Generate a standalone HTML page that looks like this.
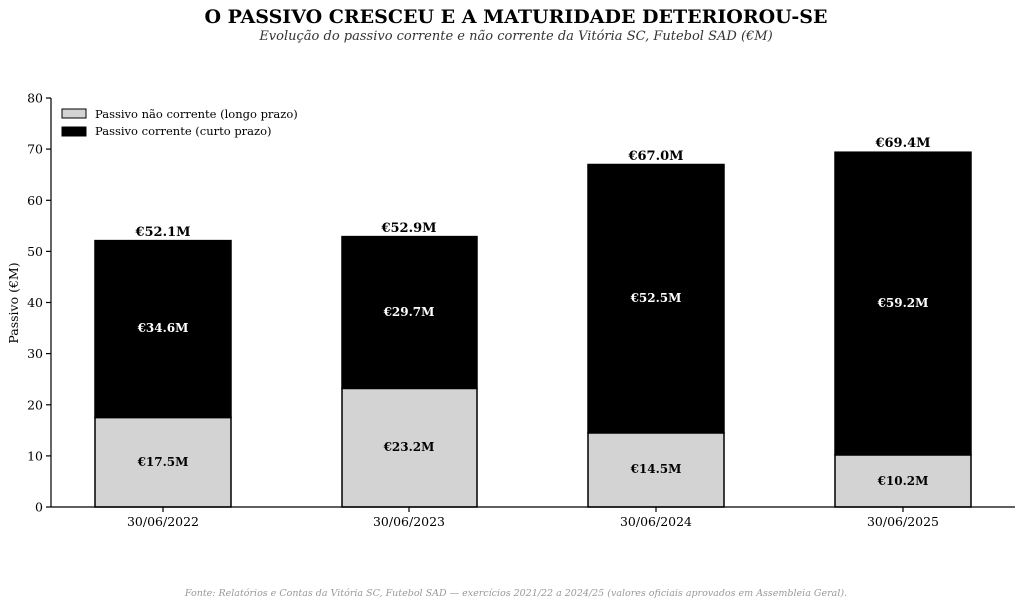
<!DOCTYPE html>
<html><head><meta charset="utf-8"><style>
body{margin:0;background:#fff;}
svg{display:block;font-family:"DejaVu Serif","Liberation Serif",serif;}
</style></head><body>
<svg width="1023" height="607" viewBox="0 0 1023 607" xmlns="http://www.w3.org/2000/svg">
<rect width="1023" height="607" fill="#fff"/>
<text x="516" y="23" text-anchor="middle" font-size="19" font-weight="bold">O PASSIVO CRESCEU E A MATURIDADE DETERIOROU-SE</text>
<text x="516" y="40" text-anchor="middle" font-size="13" font-style="italic" fill="#333">Evolução do passivo corrente e não corrente da Vitória SC, Futebol SAD (€M)</text>

<g stroke="#000" stroke-width="1.5">
<rect x="95" y="417.5" width="136" height="89.5" fill="#d3d3d3"/>
<rect x="95" y="240.6" width="136" height="176.9" fill="#000"/>
<rect x="342" y="388.4" width="135" height="118.6" fill="#d3d3d3"/>
<rect x="342" y="236.6" width="135" height="151.8" fill="#000"/>
<rect x="588" y="432.9" width="136" height="74.1" fill="#d3d3d3"/>
<rect x="588" y="164.5" width="136" height="268.4" fill="#000"/>
<rect x="835" y="454.9" width="136" height="52.1" fill="#d3d3d3"/>
<rect x="835" y="152.2" width="136" height="302.7" fill="#000"/>
</g>

<g font-size="12" font-weight="bold" text-anchor="middle">
<text x="163" y="466">€17.5M</text>
<text x="163" y="332" fill="#fff">€34.6M</text>
<text x="163" y="236" font-size="13">€52.1M</text>
<text x="409" y="451">€23.2M</text>
<text x="409" y="316" fill="#fff">€29.7M</text>
<text x="409" y="232" font-size="13">€52.9M</text>
<text x="656" y="473">€14.5M</text>
<text x="656" y="302" fill="#fff">€52.5M</text>
<text x="656" y="160" font-size="13">€67.0M</text>
<text x="903" y="485">€10.2M</text>
<text x="903" y="307" fill="#fff">€59.2M</text>
<text x="903" y="147" font-size="13">€69.4M</text>
</g>

<g stroke="#000" stroke-width="1.2">
<line x1="51" y1="98" x2="51" y2="507"/>
<line x1="51" y1="507" x2="1015" y2="507"/>
<line x1="46" y1="507" x2="51" y2="507"/>
<line x1="46" y1="455.9" x2="51" y2="455.9"/>
<line x1="46" y1="404.8" x2="51" y2="404.8"/>
<line x1="46" y1="353.6" x2="51" y2="353.6"/>
<line x1="46" y1="302.5" x2="51" y2="302.5"/>
<line x1="46" y1="251.4" x2="51" y2="251.4"/>
<line x1="46" y1="200.3" x2="51" y2="200.3"/>
<line x1="46" y1="149.1" x2="51" y2="149.1"/>
<line x1="46" y1="98" x2="51" y2="98"/>
<line x1="163" y1="507" x2="163" y2="512"/>
<line x1="409" y1="507" x2="409" y2="512"/>
<line x1="656" y1="507" x2="656" y2="512"/>
<line x1="903" y1="507" x2="903" y2="512"/>
</g>
<g font-size="12.5" text-anchor="end">
<text x="43" y="511.5">0</text>
<text x="43" y="460.4">10</text>
<text x="43" y="409.3">20</text>
<text x="43" y="358.1">30</text>
<text x="43" y="307">40</text>
<text x="43" y="255.9">50</text>
<text x="43" y="204.8">60</text>
<text x="43" y="153.6">70</text>
<text x="43" y="102.5">80</text>
</g>
<g font-size="12.5" text-anchor="middle">
<text x="163" y="526">30/06/2022</text>
<text x="409" y="526">30/06/2023</text>
<text x="656" y="526">30/06/2024</text>
<text x="903" y="526">30/06/2025</text>
</g>
<text transform="translate(18,303) rotate(-90)" font-size="12.5" text-anchor="middle">Passivo (€M)</text>

<rect x="62" y="109" width="24" height="9" fill="#d3d3d3" stroke="#000" stroke-width="1"/>
<rect x="62" y="127" width="24" height="9" fill="#000" stroke="#000" stroke-width="1"/>
<text x="95" y="118" font-size="11.5">Passivo não corrente (longo prazo)</text>
<text x="95" y="135" font-size="11.5">Passivo corrente (curto prazo)</text>

<text x="516" y="596" text-anchor="middle" font-size="9.5" font-style="italic" fill="#999">Fonte: Relatórios e Contas da Vitória SC, Futebol SAD — exercícios 2021/22 a 2024/25 (valores oficiais aprovados em Assembleia Geral).</text>
</svg>
</body></html>
